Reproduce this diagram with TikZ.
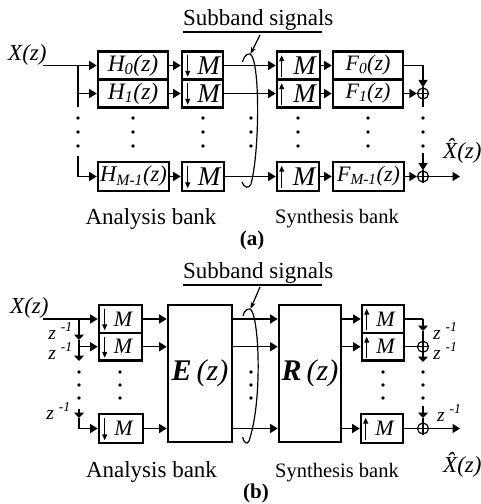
\documentclass[tikz,border=0pt]{standalone}
\usepackage{fontspec}
\setmainfont{Liberation Serif}
\usetikzlibrary{arrows.meta,calc}
\begin{document}
\begin{tikzpicture}[x=1pt,y=-1pt,
 conn/.style={line width=1.2pt},
 arr/.style={conn,-{Triangle[length=7.5pt,width=9pt]}},
 dly/.style={conn,-{Triangle[length=5.5pt,width=10pt]}},
 inarr/.style={line width=1pt,-{Triangle[length=6pt,width=5pt]}},
 ptr/.style={conn,-{Stealth[length=7pt,width=5pt]}},
 blk/.style={draw,line width=2.6pt,inner sep=0pt,font=\fontsize{23.5}{27}\selectfont\itshape},
 fblk/.style={blk,font=\fontsize{22}{26}\selectfont\itshape},
 mblkA/.style={blk,font=\fontsize{27}{30}\selectfont\itshape},
 mblkB/.style={blk,font=\fontsize{22}{26}\selectfont\itshape},
 bigblk/.style={draw,line width=2.6pt,inner sep=0pt,minimum height=137pt,font=\fontsize{30}{34}\selectfont},
 sum/.style={circle,draw,line width=1.2pt,minimum size=11pt,inner sep=0pt},
 lbl/.style={inner sep=0pt,font=\fontsize{23}{27}\selectfont},
 ilbl/.style={inner sep=0pt,font=\fontsize{23}{27}\selectfont\itshape},
 slbl/.style={inner sep=0pt,font=\fontsize{20.5}{24}\selectfont},
 captxt/.style={inner sep=0pt,font=\fontsize{21}{25}\selectfont\bfseries},
 dlbl/.style={inner sep=0pt,font=\fontsize{19.5}{23}\selectfont\itshape},
]
\useasboundingbox (0,0) rectangle (481,504);

% ================= (a) =================
\node[ilbl,anchor=base west] (xa) at (8,60) {X(z)};
\node[lbl,anchor=base west] (sba) at (183,25) {Subband signals};
\draw[conn] ($(sba.base west)+(0,7)$) -- ($(sba.base west)+(139,7)$);
\coordinate (eta) at (250.5,54);
\draw[ptr] ($(sba.base west)+(77,10)$) -- (eta);
\draw[conn] (242.5,62) .. controls (244,56) and (247,53.5) .. (250,54) .. controls (260,58) and (260,150) .. (251,184) .. controls (249,189) and (244,188) .. (242,182);

\node[blk,minimum width=70pt,minimum height=28pt] (h0) at (133,65.5) {H\textsubscript{0}(z)};
\node[blk,minimum width=70pt,minimum height=28pt] (h1) at (133,93.5) {H\textsubscript{1}(z)};
\node[blk,minimum width=71pt,minimum height=29pt,font=\fontsize{22.5}{27}\selectfont\itshape] (hm) at (133.5,176.5) {H\textsubscript{M-1}(z)};

\node[mblkA,minimum width=41pt,minimum height=28pt] (d0) at (202.5,65.5) {\hspace*{12pt}M};
\node[mblkA,minimum width=41pt,minimum height=28pt] (d1) at (202.5,93.5) {\hspace*{12pt}M};
\node[mblkA,minimum width=42pt,minimum height=29pt] (dm) at (203,176.5) {\hspace*{12pt}M};
\foreach \n in {d0,d1,dm}{\draw[inarr] ($(\n.north west)+(7,5)$) -- ($(\n.south west)+(7,-4)$);}

\node[mblkA,minimum width=43pt,minimum height=28pt] (u0) at (298.5,65.5) {\hspace*{12pt}M};
\node[mblkA,minimum width=43pt,minimum height=28pt] (u1) at (298.5,93.5) {\hspace*{12pt}M};
\node[mblkA,minimum width=42pt,minimum height=29pt] (um) at (298,176.5) {\hspace*{12pt}M};
\foreach \n in {u0,u1,um}{\draw[inarr] ($(\n.south west)+(6,-4)$) -- ($(\n.north west)+(6,5)$);}

\node[fblk,minimum width=70pt,minimum height=28pt] (f0) at (368,65.5) {F\textsubscript{0}(z)};
\node[fblk,minimum width=70pt,minimum height=28pt] (f1) at (368,93.5) {F\textsubscript{1}(z)};
\node[fblk,minimum width=71pt,minimum height=29pt] (fm) at (368.5,176.5) {F\textsubscript{M-1}(z)};

\node[sum] (s1) at (423,93.5) {};
\node[sum] (sm) at (423,176.5) {};
\foreach \n in {s1,sm}{\draw[conn] (\n.north) -- (\n.south) (\n.west) -- (\n.east);}

\coordinate (ina) at (43,65.5);
\coordinate (ba) at (78,65.5);
\coordinate (ba1) at (78,93.5);
\coordinate (ba2) at (78,107);
\coordinate (ba3) at (78,156);
\draw[arr] (ina) -- (h0.west);
\draw[conn] (ba) -- (ba2);
\draw[arr] (ba1) -- (h1.west);
\draw[arr] (ba3) |- (hm.west);
\draw[arr] (h0.east) -- (d0.west);
\draw[arr] (h1.east) -- (d1.west);
\draw[arr] (hm.east) -- (dm.west);
\draw[arr] (d0.east) -- (u0.west);
\draw[arr] (d1.east) -- (u1.west);
\draw[arr] (dm.east) -- (um.west);
\draw[arr] (u0.east) -- (f0.west);
\draw[arr] (u1.east) -- (f1.west);
\draw[arr] (um.east) -- (fm.west);
\draw[arr] (f0.east) -| (s1.north);
\draw[arr] (f1.east) -- (s1.west);
\coordinate (sa2) at (423,107);
\draw[conn] (s1.south) -- (sa2);
\coordinate (sa3) at (423,153);
\draw[arr] (sa3) -- (sm.north);
\draw[arr] (fm.east) -- (sm.west);
\coordinate (outa) at (460,176.5);
\draw[arr] (sm.east) -- (outa);

\foreach \x in {78,133,203,251,298,368,423}{\foreach \y in {118,132,146}{\fill (\x,\y) circle (1.8);}}

\node[ilbl,anchor=base west] (xha) at (443,158) {\^{X}(z)};
\node[lbl,anchor=base] (ana) at (151,224) {Analysis bank};
\node[slbl,anchor=base] (syna) at (337,223) {Synthesis bank};
\node[captxt] (capa) at (252,240) {(a)};

% ================= (b) =================
\node[ilbl,anchor=base west] (xb) at (10,313) {X(z)};
\node[lbl,anchor=base west] (sbb) at (183,278) {Subband signals};
\draw[conn] ($(sbb.base west)+(0,7)$) -- ($(sbb.base west)+(139,7)$);
\coordinate (etb) at (250.5,309);
\draw[ptr] ($(sbb.base west)+(77,9)$) -- (etb);
\draw[conn] (243,316) .. controls (244,311) and (247,308.5) .. (250,309) .. controls (259,313) and (263,400) .. (249,441) .. controls (247,445) and (244,443) .. (242.5,437);

\node[mblkB,minimum width=43pt,minimum height=28pt] (bd0) at (120.5,319) {\hspace*{5pt}M};
\node[mblkB,minimum width=43pt,minimum height=27.5pt] (bd1) at (120.5,346.75) {\hspace*{5pt}M};
\node[mblkB,minimum width=44pt,minimum height=29pt] (bdm) at (121,428.5) {\hspace*{5pt}M};
\foreach \n in {bd0,bd1,bdm}{\draw[inarr] ($(\n.north west)+(7,5)$) -- ($(\n.south west)+(7,-4)$);}

\node[bigblk,minimum width=64pt] (eb) at (200,373.5) {\textbf{\textit{E}}\,\textit{(z)}};
\node[bigblk,minimum width=62pt] (rb) at (310,373.5) {\textbf{\textit{R}}\,\textit{(z)}};

\node[mblkB,minimum width=42pt,minimum height=28pt] (bu0) at (383,319) {\hspace*{5pt}M};
\node[mblkB,minimum width=42pt,minimum height=27.5pt] (bu1) at (383,346.75) {\hspace*{5pt}M};
\node[mblkB,minimum width=42pt,minimum height=29pt] (bum) at (382,428.5) {\hspace*{5pt}M};
\foreach \n in {bu0,bu1,bum}{\draw[inarr] ($(\n.south west)+(6,-4)$) -- ($(\n.north west)+(6,5)$);}

\node[sum] (bs1) at (423,346.75) {};
\node[sum] (bsm) at (423,428.5) {};
\foreach \n in {bs1,bsm}{\draw[conn] (\n.north) -- (\n.south) (\n.west) -- (\n.east);}

\coordinate (inb) at (43,319);
\coordinate (cb0) at (79,319);
\coordinate (cb0a) at (79,340);
\coordinate (cb1) at (79,346.75);
\coordinate (cb1a) at (79,361);
\coordinate (cb2) at (79,409);
\coordinate (cb2a) at (79,418);
\draw[arr] (inb) -- (bd0.west);
\draw[dly] (cb0) -- (cb0a);
\draw[conn] (cb0a) -- (cb1);
\draw[arr] (cb1) -- (bd1.west);
\draw[dly] (cb1) -- (cb1a);
\draw[dly] (cb2) -- (cb2a);
\draw[arr] (cb2a) |- (bdm.west);

\draw[arr] (bd0.east) -- (eb.west |- bd0.east);
\draw[arr] (bd1.east) -- (eb.west |- bd1.east);
\draw[arr] (bdm.east) -- (eb.west |- bdm.east);
\draw[arr] (eb.east |- bd0.east) -- (rb.west |- bd0.east);
\draw[arr] (eb.east |- bd1.east) -- (rb.west |- bd1.east);
\draw[arr] (eb.east |- bdm.east) -- (rb.west |- bdm.east);
\draw[arr] (rb.east |- bu0.west) -- (bu0.west);
\draw[arr] (rb.east |- bu1.west) -- (bu1.west);
\draw[arr] (rb.east |- bum.west) -- (bum.west);

\coordinate (bsa) at (423,319);
\coordinate (bsb) at (423,331);
\draw[conn] (bu0.east) -- (bsa);
\draw[dly] (bsa) -- (bsb);
\draw[conn] (bsb) -- (bs1.north);
\draw[conn] (bu1.east) -- (bs1.west);
\coordinate (bsc) at (423,362);
\draw[dly] (bs1.south) -- (bsc);
\coordinate (bsd) at (423,406);
\coordinate (bse) at (423,418);
\draw[dly] (bsd) -- (bse);
\draw[conn] (bse) -- (bsm.north);
\draw[conn] (bum.east) -- (bsm.west);
\coordinate (outb) at (460,428.5);
\draw[arr] (bsm.east) -- (outb);

\foreach \x in {79,120,251,383,423}{\foreach \y in {372,385,398}{\fill (\x,\y) circle (1.8);}}

\node[dlbl,anchor=base east] (zl1) at (73,339) {z \textsuperscript{-1}};
\node[dlbl,anchor=base east] (zl2) at (73,359) {z \textsuperscript{-1}};
\node[dlbl,anchor=base east] (zl3) at (71,419) {z \textsuperscript{-1}};
\node[dlbl,anchor=base west] (zr1) at (433,339) {z \textsuperscript{-1}};
\node[dlbl,anchor=base west] (zr2) at (433,359) {z \textsuperscript{-1}};
\node[dlbl,anchor=base west] (zr3) at (437,421) {z \textsuperscript{-1}};

\node[ilbl,anchor=base west] (xhb) at (443,472) {\^{X}(z)};
\node[lbl,anchor=base] (anb) at (151.5,477) {Analysis bank};
\node[slbl,anchor=base] (synb) at (337,477) {Synthesis bank};
\node[captxt] (capb) at (256,493) {(b)};
\end{tikzpicture}
\end{document}
